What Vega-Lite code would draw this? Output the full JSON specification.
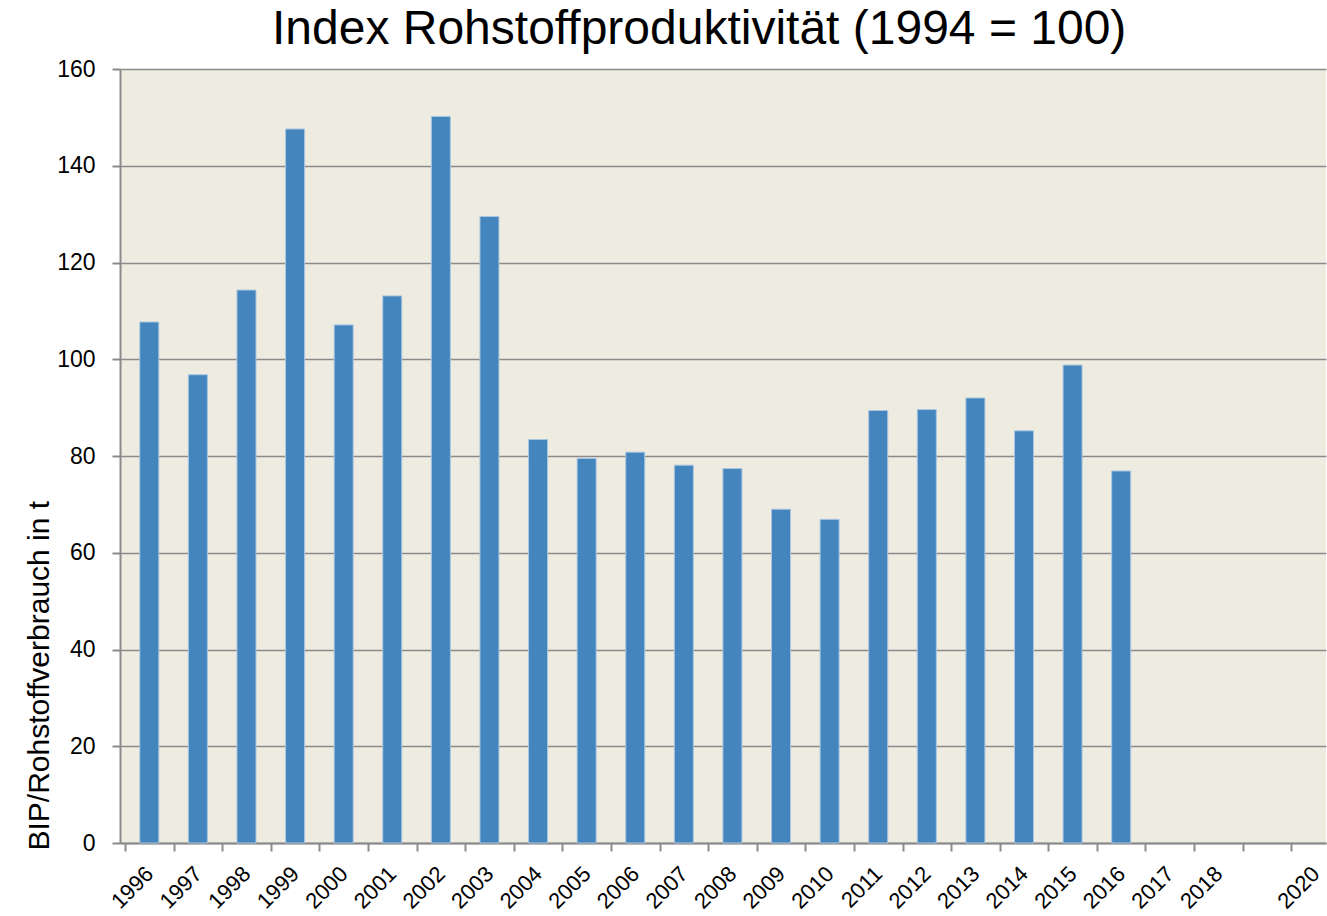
{
  "$schema": "https://vega.github.io/schema/vega-lite/v6.json",
  "width": 1206,
  "height": 774,
  "autosize": {"type": "none"},
  "padding": {"left": 120, "top": 69, "right": 1, "bottom": 73},
  "background": "white",
  "title": {
    "text": "Index Rohstoffproduktivität (1994 = 100)",
    "font": "Liberation Sans",
    "fontSize": 48,
    "fontWeight": "normal",
    "color": "black",
    "anchor": "start",
    "frame": "group",
    "offset": 4,
    "dx": 152
  },
  "config": {
    "view": {"fill": "#EEEBE0", "stroke": null},
    "axis": {
      "labelFont": "Liberation Sans",
      "titleFont": "Liberation Sans",
      "labelColor": "black",
      "titleColor": "black",
      "domainColor": "#8a8a8a",
      "tickColor": "#8a8a8a",
      "domainWidth": 2,
      "tickWidth": 2
    }
  },
  "data": {
    "values": [
      {"year": 1996, "index": 107.7},
      {"year": 1997, "index": 96.8},
      {"year": 1998, "index": 114.3},
      {"year": 1999, "index": 147.6},
      {"year": 2000, "index": 107.1},
      {"year": 2001, "index": 113.1},
      {"year": 2002, "index": 150.2},
      {"year": 2003, "index": 129.5},
      {"year": 2004, "index": 83.4},
      {"year": 2005, "index": 79.5},
      {"year": 2006, "index": 80.8},
      {"year": 2007, "index": 78.1},
      {"year": 2008, "index": 77.4},
      {"year": 2009, "index": 69.0},
      {"year": 2010, "index": 66.9},
      {"year": 2011, "index": 89.4},
      {"year": 2012, "index": 89.6},
      {"year": 2013, "index": 92.0},
      {"year": 2014, "index": 85.2},
      {"year": 2015, "index": 98.8},
      {"year": 2016, "index": 76.9}
    ]
  },
  "layer": [
    {
      "mark": {"type": "bar", "size": 19, "color": "#4585BD", "stroke": "#a9c6e2", "strokeWidth": 1},
      "encoding": {
        "x": {
          "field": "year",
          "type": "quantitative",
          "scale": {"domain": [1995.5, 2020.112], "nice": false, "zero": false},
          "axis": {
            "orient": "bottom",
            "title": null,
            "values": [1996, 1997, 1998, 1999, 2000, 2001, 2002, 2003, 2004, 2005, 2006, 2007, 2008, 2009, 2010, 2011, 2012, 2013, 2014, 2015, 2016, 2017, 2018, 2020],
            "format": "d",
            "labelAngle": -45,
            "labelAlign": "right",
            "labelBaseline": "middle",
            "labelFontSize": 22,
            "labelPadding": 27,
            "labelOverlap": false,
            "labelFlush": false,
            "ticks": false,
            "tickSize": 0,
            "grid": false,
            "domain": true
          }
        },
        "y": {
          "field": "index",
          "type": "quantitative",
          "scale": {"domain": [0, 160], "nice": false},
          "axis": {
            "title": "BIP/Rohstoffverbrauch in t",
            "values": [0, 20, 40, 60, 80, 100, 120, 140, 160],
            "labelFontSize": 23,
            "labelPadding": 17,
            "tickSize": 8,
            "grid": true,
            "gridColor": "#8a8a8a",
            "gridWidth": 1.6,
            "titleFontSize": 30,
            "titleFontWeight": "normal",
            "titleAngle": 270,
            "titleAlign": "left",
            "titleBaseline": "bottom",
            "titleX": -66,
            "titleY": 781
          }
        }
      }
    },
    {
      "mark": {"type": "tick", "opacity": 0},
      "encoding": {
        "x": {
          "field": "year",
          "type": "quantitative",
          "axis": {
            "orient": "bottom",
            "title": null,
            "values": [1995.5, 1996.5, 1997.5, 1998.5, 1999.5, 2000.5, 2001.5, 2002.5, 2003.5, 2004.5, 2005.5, 2006.5, 2007.5, 2008.5, 2009.5, 2010.5, 2011.5, 2012.5, 2013.5, 2014.5, 2015.5, 2016.5, 2017.5, 2018.5, 2019.5],
            "labels": false,
            "ticks": true,
            "tickSize": 8,
            "grid": false,
            "domain": false
          }
        },
        "y": {"field": "index", "type": "quantitative"}
      }
    }
  ],
  "resolve": {"axis": {"x": "independent", "y": "shared"}}
}
